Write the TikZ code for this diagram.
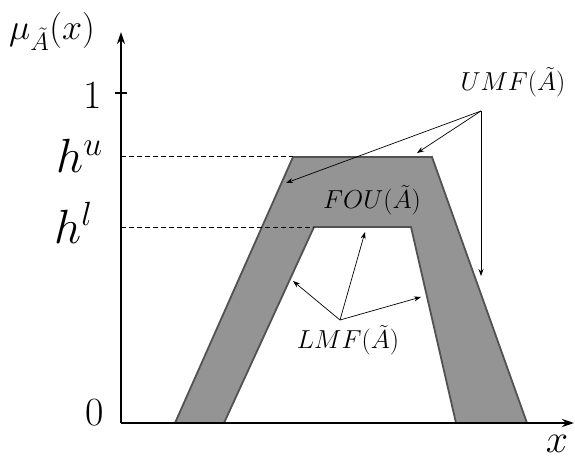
\RequirePackage{fix-cm}
\documentclass[tikz,border=0pt]{standalone}
\usetikzlibrary{arrows.meta}
\tikzset{
  axis/.style={line width=2.6pt,-{Stealth[length=12pt,width=8pt]}},
  band/.style={fill=black!42, draw=black!68, line width=1.8pt, line join=miter},
  guide/.style={line width=1pt, dash pattern=on 5pt off 3pt},
  pointer/.style={line width=0.7pt,-{Stealth[length=7pt,width=5pt]}},
  biglbl/.style={font=\fontsize{40}{40}\selectfont, inner sep=0pt},
  hlbl/.style={font=\fontsize{48}{48}\selectfont, inner sep=0pt},
  annot/.style={font=\fontsize{26}{26}\selectfont, inner sep=0pt}
}
\begin{document}
\begin{tikzpicture}[x=1pt,y=-1pt]
\useasboundingbox (0,0) rectangle (575,465);
% corner coordinates
\coordinate (O) at (121,423);
\coordinate (ytop) at (121,32);
\coordinate (xend) at (574,423);
\coordinate (u1) at (175,423);
\coordinate (u2) at (293,157);
\coordinate (u3) at (432,157);
\coordinate (u4) at (527,423);
\coordinate (l1) at (224,423);
\coordinate (l2) at (314,227);
\coordinate (l3) at (411,227);
\coordinate (l4) at (456,423);
% shapes
\draw[band] (u1) -- (u2) -- (u3) -- (u4) -- cycle;
\fill[white] (l1) -- (l2) -- (l3) -- (l4) -- cycle;
\draw[draw=black!68, line width=1.8pt] (l1) -- (l2) -- (l3) -- (l4);
% dashed guides
\coordinate (hu) at (121,157);
\coordinate (hl) at (121,227);
\draw[guide] (hu) -- (u2);
\draw[guide] (hl) -- (l2);
% axes
\draw[axis] (O) -- (ytop);
\draw[axis] (O) -- (xend);
\coordinate (t1) at (115,93);
\coordinate (t2) at (127,93);
\draw[line width=1.2pt] (t1) -- (t2);
% labels
\node[biglbl] (one) at (93,95) {1};
\node[biglbl] (zero) at (95,413) {0};
\node[hlbl, anchor=base west] (hup) at (56,173) {$h^u$};
\node[hlbl, anchor=base west] (hlo) at (54,243) {$h^l$};
\node[font=\fontsize{36}{36}\selectfont, inner sep=0pt, anchor=base west] (mu) at (9,40) {$\mu_{\tilde A}(x)$};
\node[biglbl] (xl) at (557,444) {$x$};
\node[annot] (umf) at (513,82) {$UMF(\tilde A)$};
\node[annot] (fou) at (372,200) {$FOU(\tilde A)$};
\node[annot] (lmf) at (348,340) {$LMF(\tilde A)$};
% pointers
\coordinate (us) at (481,111);
\coordinate (ua) at (286,183);
\coordinate (ub) at (417,153);
\coordinate (uc) at (481,276);
\draw[pointer] (us) -- (ua);
\draw[pointer] (us) -- (ub);
\draw[pointer] (us) -- (uc);
\coordinate (ls) at (340,320);
\coordinate (la) at (293,281);
\coordinate (lb) at (365,232);
\coordinate (lc) at (421,297);
\draw[pointer] (ls) -- (la);
\draw[pointer] (ls) -- (lb);
\draw[pointer] (ls) -- (lc);
\end{tikzpicture}
\end{document}
